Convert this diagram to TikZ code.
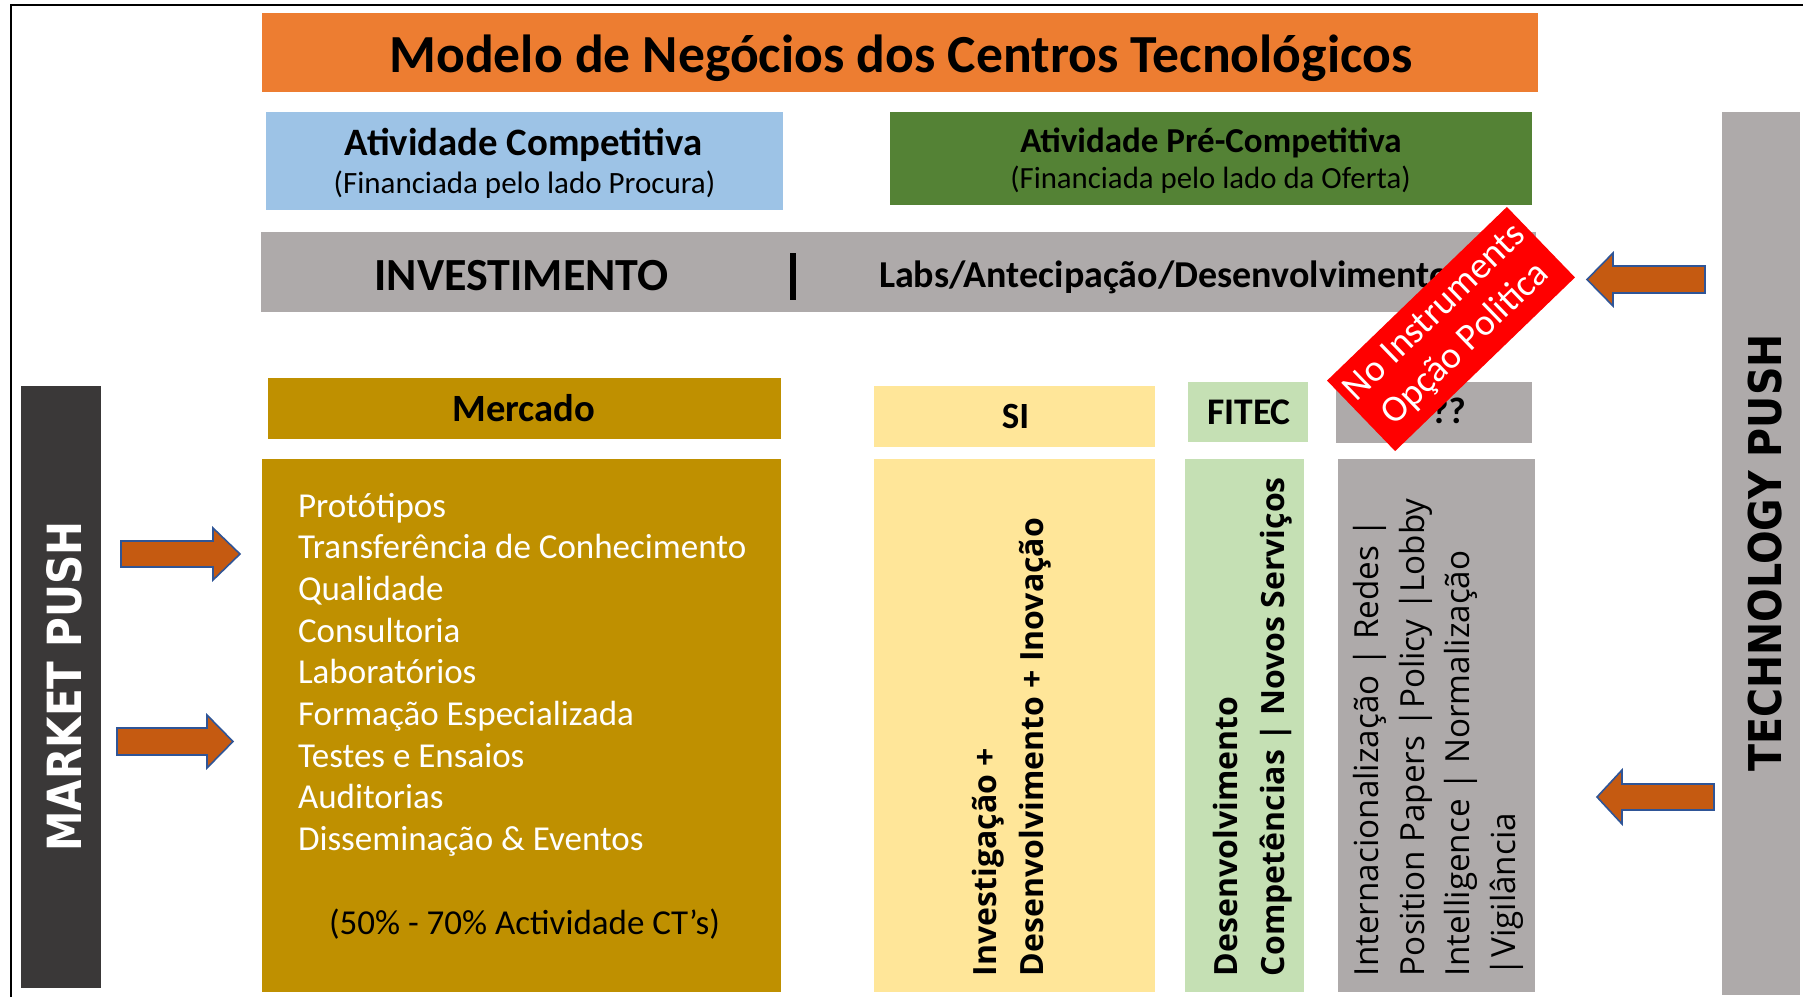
\documentclass[tikz,border=0pt]{standalone}
\usepackage{fontspec}
\setmainfont{Carlito}
\newfontfamily\opensans{Open Sans}
\newfontfamily\dejavu{DejaVu Sans}
\newcommand\fsz[1]{\fontsize{#1pt}{#1pt}\selectfont}
\definecolor{orangeT}{HTML}{ED7D31}
\definecolor{blueC}{HTML}{9DC3E6}
\definecolor{greenP}{HTML}{548235}
\definecolor{grayB}{HTML}{AEAAAA}
\definecolor{darkB}{HTML}{3A3838}
\definecolor{goldM}{HTML}{BF9000}
\definecolor{yellowS}{HTML}{FFE699}
\definecolor{greenF}{HTML}{C5E0B4}
\definecolor{arrowfill}{HTML}{C55A11}
\definecolor{arrowline}{HTML}{2F5597}
\tikzset{
  box/.style={inner sep=0pt, outer sep=0pt, draw=none, anchor=center},
  txt/.style={inner sep=0pt, outer sep=0pt},
  blockarrow/.style={fill=arrowfill, draw=arrowline, line width=0.8pt, line join=miter},
  vbold/.style={txt, rotate=90, anchor=base west, font=\opensans\bfseries\fsz{16}},
  vreg/.style={txt, rotate=90, anchor=base west, font=\opensans\fsz{16.6}},
  listtxt/.style={txt, anchor=base west, text=white, font=\fsz{17.5}},
}
\begin{document}
\begin{tikzpicture}[x=0.5pt,y=-0.5pt]
\useasboundingbox (0,0) rectangle (1803,997);
\fill[white] (0,0) rectangle (1803,997);
\draw[line width=1pt] (11,997) -- (11,5) -- (1803,5);

% boxes
\node[box, fill=orangeT, minimum width=638pt, minimum height=39.5pt] (title) at (900,52.5) {};
\node[box, fill=blueC, minimum width=258.5pt, minimum height=49pt] (blue) at (524.5,161) {};
\node[box, fill=greenP, minimum width=321pt, minimum height=46.5pt] (green) at (1211,158.5) {};
\node[box, fill=grayB, minimum width=637.5pt, minimum height=40pt] (invest) at (898.5,272) {};
\node[box, fill=darkB, minimum width=40pt, minimum height=301pt] (market) at (61,687) {};
\node[box, fill=goldM, minimum width=256.5pt, minimum height=30.5pt] (merchead) at (524.5,408.5) {};
\node[box, fill=goldM, minimum width=259.5pt, minimum height=266.5pt] (mercbody) at (521.5,725.5) {};
\node[box, fill=yellowS, minimum width=140.5pt, minimum height=30.5pt] (sihead) at (1014.5,416.5) {};
\node[box, fill=yellowS, minimum width=140.5pt, minimum height=266.5pt] (sibody) at (1014.5,725.5) {};
\node[box, fill=greenF, minimum width=60pt, minimum height=30pt] (fitechead) at (1248,412) {};
\node[box, fill=greenF, minimum width=59.5pt, minimum height=266.5pt] (fitecbody) at (1244.5,725.5) {};
\node[box, fill=grayB, minimum width=98pt, minimum height=30.5pt] (qhead) at (1434,412.5) {};
\node[box, fill=grayB, minimum width=98.5pt, minimum height=266.5pt] (qbody) at (1436.5,725.5) {};
\node[box, fill=grayB, minimum width=39pt, minimum height=441.5pt] (tech) at (1761,553.5) {};

% header texts
\node[txt, anchor=base, font=\fsz{26.8}\bfseries] (titletxt) at (901,72) {Modelo de Negócios dos Centros Tecnológicos};
\node[txt, anchor=base, font=\fsz{19.4}\bfseries] (bluet) at (523.5,155) {Atividade Competitiva};
\node[txt, anchor=base, font=\fsz{15.5}] (blues) at (524.5,193) {(Financiada pelo lado Procura)};
\node[txt, anchor=base, font=\fsz{17.5}\bfseries] (greent) at (1211,152) {Atividade Pré-Competitiva};
\node[txt, anchor=base, font=\fsz{15.4}] (greens) at (1210.5,188) {(Financiada pelo lado da Oferta)};
\node[txt, anchor=base, font=\fsz{23}\bfseries] (investt) at (521.5,290) {INVESTIMENTO};
\draw[line width=3pt] (793,253) -- (793,300);
\node[txt, anchor=base west, font=\fsz{19}\bfseries] (labs) at (879,287) {Labs/Antecipação/Desenvolvimento};

\node[txt, anchor=base, font=\fsz{19.3}\bfseries] (merct) at (524,421) {Mercado};
\node[txt, anchor=base, font=\fsz{18.5}\bfseries] (sit) at (1015.5,428) {SI};
\node[txt, anchor=base, font=\fsz{18.8}\bfseries] (fitect) at (1249,424) {FITEC};
\node[txt, anchor=base, font=\fsz{18.5}\bfseries] (qt) at (1440,423) {???};

% mercado list
\node[listtxt] (l1) at (298,517) {Protótipos};
\node[listtxt] (l2) at (298,558.7) {Transferência de Conhecimento};
\node[listtxt] (l3) at (298,600.4) {Qualidade};
\node[listtxt] (l4) at (298,642.1) {Consultoria};
\node[listtxt] (l5) at (298,683.8) {Laboratórios};
\node[listtxt] (l6) at (298,725.5) {Formação Especializada};
\node[listtxt] (l7) at (298,767.2) {Testes e Ensaios};
\node[listtxt] (l8) at (298,808.9) {Auditorias};
\node[listtxt] (l9) at (298,850.6) {Disseminação \& Eventos};
\node[txt, anchor=base, font=\fsz{17.5}] (pct) at (524.5,934) {(50\% - 70\% Actividade CT’s)};

% vertical texts
\node[vbold] (si1) at (996,976) {Investigação +};
\node[vbold] (si2) at (1043,976) {Desenvolvimento + Inovação};
\node[vbold] (f1) at (1237,976) {Desenvolvimento};
\node[vbold] (f2) at (1284,976) {Competências | Novos Serviços};
\node[vreg] (q1) at (1378,976) {Internacionalização | Redes |};
\node[vreg] (q2) at (1424,976) {Position Papers |Policy |Lobby};
\node[vreg] (q3) at (1469,976) {Intelligence | Normalização};
\node[vreg] (q4) at (1515,976) {|Vigilância};

\node[txt, rotate=90, anchor=base, text=white, font=\dejavu\bfseries\fsz{20.3}] (mpush) at (81,686.5) {\scalebox{1}[1.16]{MARKET PUSH}};
\node[txt, rotate=90, anchor=base, font=\dejavu\bfseries\fsz{19.8}] (tpush) at (1781,553) {\scalebox{1}[1.14]{TECHNOLOGY PUSH}};

% block arrows
\draw[blockarrow] (121,541) -- (213,541) -- (213,528) -- (240,554) -- (213,580) -- (213,567) -- (121,567) -- cycle;
\draw[blockarrow] (117,728) -- (207,728) -- (207,715) -- (233,741.5) -- (207,768) -- (207,755) -- (117,755) -- cycle;
\draw[blockarrow] (1705,266) -- (1613,266) -- (1613,253) -- (1587,279.5) -- (1613,306) -- (1613,293) -- (1705,293) -- cycle;
\draw[blockarrow] (1714,784) -- (1622,784) -- (1622,770) -- (1597,797) -- (1622,824) -- (1622,810) -- (1714,810) -- cycle;

% red banner
\node[box, fill=red, minimum width=125pt, minimum height=49pt, rotate=44, align=center, text=white, font=\fsz{18.8}] (banner) at (1451,329) {No Instruments\\[3pt]Opção Politica};
\end{tikzpicture}
\end{document}
